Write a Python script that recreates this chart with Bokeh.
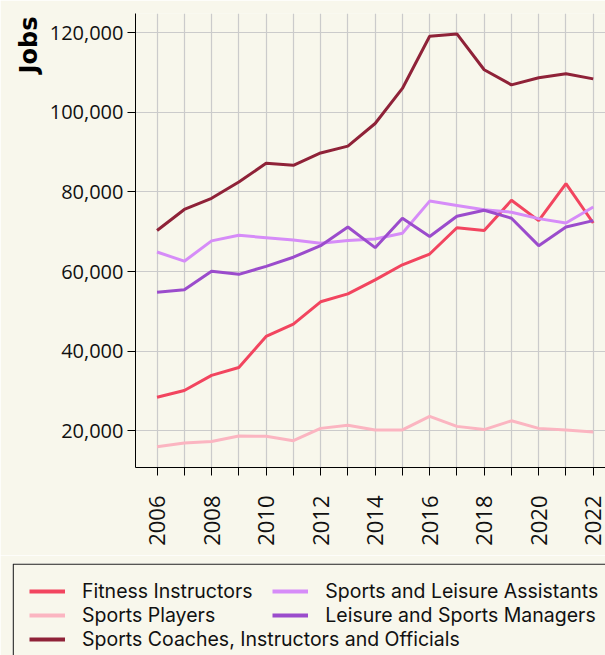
import math
from bokeh.plotting import figure
from bokeh.models import (Range1d, FixedTicker, NumeralTickFormatter, Legend,
                          LegendItem, ColumnDataSource, Title)
from bokeh.embed import file_html
from bokeh.resources import INLINE

years = list(range(2006, 2023))
fitness_instructors = [28400, 30100, 33900, 35900, 43700, 46800, 52400, 54400, 57900,
                       61700, 64400, 71000, 70300, 77900, 72800, 82100, 72200]
sports_players = [16000, 16900, 17300, 18700, 18600, 17500, 20600, 21400, 20200,
                  20200, 23600, 21100, 20300, 22500, 20600, 20200, 19700]
sports_coaches = [70300, 75600, 78400, 82500, 87200, 86700, 89800, 91500, 97200,
                  106000, 119100, 119700, 110700, 106900, 108700, 109700, 108400]
leisure_assistants = [64900, 62600, 67700, 69100, 68500, 67900, 67100, 67800, 68200,
                      69600, 77700, 76600, 75500, 74900, 73300, 72200, 76200]
leisure_managers = [54800, 55400, 60100, 59300, 61300, 63600, 66500, 71200, 66000,
                    73400, 68800, 73900, 75400, 73400, 66500, 71200, 72800]

series_names = ["Fitness Instructors", "Sports Players",
                "Sports Coaches, Instructors and Officials",
                "Sports and Leisure Assistants", "Leisure and Sports Managers"]
series_values = [fitness_instructors, sports_players, sports_coaches,
                 leisure_assistants, leisure_managers]
series_colors = ["#f2455f", "#fbb5c1", "#8f2238", "#d68cf8", "#9b4ccc"]

y_ticks = [20000, 40000, 60000, 80000, 100000, 120000]
x_label_years = [2006, 2008, 2010, 2012, 2014, 2016, 2018, 2020, 2022]

BG = "#f8f7ec"
FONT = "Open Sans"

# ---- main chart ----
p = figure(frame_width=470, frame_height=454, min_border_left=135, min_border_right=0,
           min_border_top=13, min_border_bottom=88,
           x_range=Range1d(2005.21, 2022.45), y_range=Range1d(10770, 124830),
           output_backend="svg", toolbar_location=None, tools="")
p.background_fill_color = BG
p.border_fill_color = BG
p.outline_line_color = None

for name, vals, col in zip(series_names, series_values, series_colors):
    src = ColumnDataSource(dict(x=years, y=vals))
    p.line("x", "y", source=src, line_color=col, line_width=3)

p.xaxis.ticker = FixedTicker(ticks=years)
p.xaxis.major_label_overrides = {y: (str(y) if y in x_label_years else "") for y in years}
p.xaxis.major_label_orientation = math.pi / 2
p.yaxis.ticker = FixedTicker(ticks=y_ticks)
p.yaxis.formatter = NumeralTickFormatter(format="0,0")
for ax in (p.xaxis, p.yaxis):
    ax.axis_line_color = "black"
    ax.major_tick_line_color = "black"
    ax.major_tick_out = 8
    ax.major_tick_in = 0
    ax.minor_tick_out = 0
    ax.minor_tick_in = 0
    ax.major_label_text_font = FONT
    ax.major_label_text_color = "#111111"
p.yaxis.major_label_text_font_size = "20px"
p.xaxis.major_label_text_font_size = "22px"
p.xaxis.major_label_standoff = 20
p.yaxis.major_label_standoff = 4
p.xgrid.ticker = FixedTicker(ticks=years)
p.ygrid.ticker = FixedTicker(ticks=y_ticks)
p.grid.grid_line_color = "#cbcbcb"
p.grid.grid_line_width = 1.2

p.add_layout(Title(text="Jobs", align="right", text_font="DejaVu Sans",
                   text_font_style="bold", text_font_size="24px", text_color="black",
                   standoff=8, offset=3), "left")

# ---- legend panel ----
p2 = figure(frame_width=593, frame_height=92, min_border_left=12, min_border_right=0,
            min_border_top=8, min_border_bottom=0,
            x_range=Range1d(0, 593), y_range=Range1d(0, 92),
            x_axis_type=None, y_axis_type=None,
            output_backend="svg", toolbar_location=None, tools="")
p2.background_fill_color = BG
p2.border_fill_color = BG
p2.outline_line_color = None
p2.grid.visible = False
# legend box border (top and left edges; right and bottom fall outside the view)
p2.line(x=[0.7, 0.7, 600], y=[-10, 91.4, 91.4], line_color="#222222", line_width=1.3)

legend_renderers = []
for name, vals, col in zip(series_names, series_values, series_colors):
    src = ColumnDataSource(dict(x=years, y=vals))  # lies far outside this panel's ranges
    legend_renderers.append(p2.line("x", "y", source=src, line_color=col, line_width=4))

items = [LegendItem(label=n, renderers=[r]) for n, r in zip(series_names, legend_renderers)]


def make_legend(its, loc):
    return Legend(items=its, location=loc, orientation="vertical", padding=0, margin=0,
                  spacing=0, glyph_width=36, glyph_height=24, label_height=24,
                  label_standoff=17, border_line_color=None, background_fill_alpha=0,
                  label_text_font="Inter", label_text_font_size="19.5px",
                  label_text_color="#111111")


p2.add_layout(make_legend(items[:3], (17, 4.3)))
p2.add_layout(make_legend(items[3:], (260.3, 28.3)))

html = file_html([p, p2], INLINE)
html = html.replace("<body>", '<body style="background:%s">' % BG, 1)
open("out.html", "w").write(html)
